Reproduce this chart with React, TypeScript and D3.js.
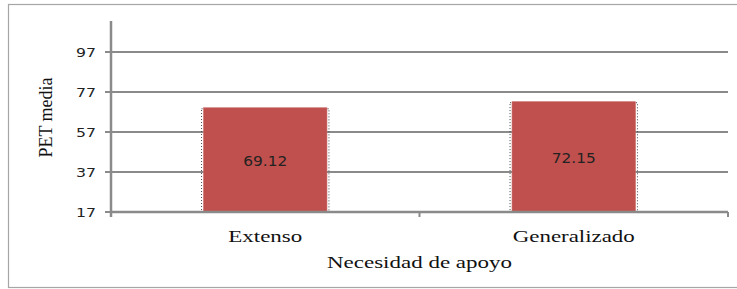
import React from 'react';
import { scaleLinear, scaleBand } from 'd3';

const categories = ['Extenso', 'Generalizado'];
const values = [69.12, 72.15];
const yTicks = [17, 37, 57, 77, 97];
const yTitle = 'PET media';
const xTitle = 'Necesidad de apoyo';

const W = 737;
const H = 289;
const left = 111;
const right = 728;
const top = 21;
const bottom = 212;

const barColor = '#c0504d';
const gridColor = '#8a8a8a';
const serif = "'Liberation Serif', 'DejaVu Serif', serif";
const sans = "'DejaVu Sans', 'Liberation Sans', sans-serif";

// the source picture is stretched sideways, so text widths are forced with textLength
const catWidths = [74, 122];

export default function App() {
  const y = scaleLinear().domain([17, 112.5]).range([bottom, top]);
  const x = scaleBand<string>().domain(categories).range([left, right]).paddingInner(0.6).paddingOuter(0.3);
  const band = scaleBand<string>().domain(categories).range([left, right]);

  return (
    <svg width={W} height={H} style={{ position: 'absolute', left: 0, top: 0 }}>
      <rect x={0} y={0} width={W} height={H} fill="#fff" />
      <rect x={8.5} y={4.5} width={740} height={283} fill="none" stroke="#a6a6a6" strokeWidth={1.2} />

      {/* gridlines */}
      {yTicks.map(t => (
        <line key={t} x1={left - 6} x2={right} y1={y(t)} y2={y(t)} stroke={gridColor} strokeWidth={2} />
      ))}
      {yTicks.map(t => (
        <text key={'l' + t} x={96} y={y(t) + 5} textAnchor="end" style={{ fontFamily: sans }} fontSize={13}
          textLength={20} lengthAdjust="spacingAndGlyphs" fill="#222">{t}</text>
      ))}

      {/* dotted outlines behind bars */}
      {categories.map((c, i) => (
        <rect key={'o' + c} x={x(c)! - 2} y={y(values[i]) + 1} width={x.bandwidth() + 4}
          height={bottom - y(values[i]) - 1} fill="none" stroke="#444" strokeWidth={1}
          strokeDasharray="1,2" />
      ))}

      {categories.map((c, i) => (
        <rect key={c} x={x(c)} y={y(values[i])} width={x.bandwidth()} height={bottom - y(values[i])}
          fill={barColor} stroke="#c96a67" strokeWidth={0.6} />
      ))}
      {categories.map((c, i) => (
        <text key={'v' + c} x={x(c)! + x.bandwidth() / 2} y={(y(values[i]) + bottom) / 2 + 6}
          textAnchor="middle" style={{ fontFamily: sans }} fontSize={14} textLength={44}
          lengthAdjust="spacingAndGlyphs" fill="#222">{values[i].toFixed(2)}</text>
      ))}

      {/* axes */}
      <line x1={left} x2={left} y1={top} y2={bottom + 5} stroke={gridColor} strokeWidth={2.5} />
      <line x1={left} x2={right} y1={bottom} y2={bottom} stroke={gridColor} strokeWidth={2.5} />
      {[...categories.map(c => band(c)!), right].map((t, i) => (
        <line key={'t' + i} x1={t} x2={t} y1={bottom} y2={bottom + 5} stroke={gridColor} strokeWidth={2} />
      ))}

      {categories.map((c, i) => (
        <text key={'c' + c} x={band(c)! + band.bandwidth() / 2} y={242} textAnchor="middle"
          style={{ fontFamily: serif }} fontSize={17} textLength={catWidths[i]} lengthAdjust="spacingAndGlyphs"
          fill="#111">{c}</text>
      ))}
      <text x={(left + right) / 2} y={268} textAnchor="middle" style={{ fontFamily: serif }} fontSize={17}
        textLength={185} lengthAdjust="spacingAndGlyphs" fill="#111">{xTitle}</text>
      <text transform={`translate(52, ${(top + bottom) / 2 + 1}) rotate(-90)`} textAnchor="middle"
        style={{ fontFamily: serif }} fontSize={18} fill="#111">{yTitle}</text>
    </svg>
  );
}
